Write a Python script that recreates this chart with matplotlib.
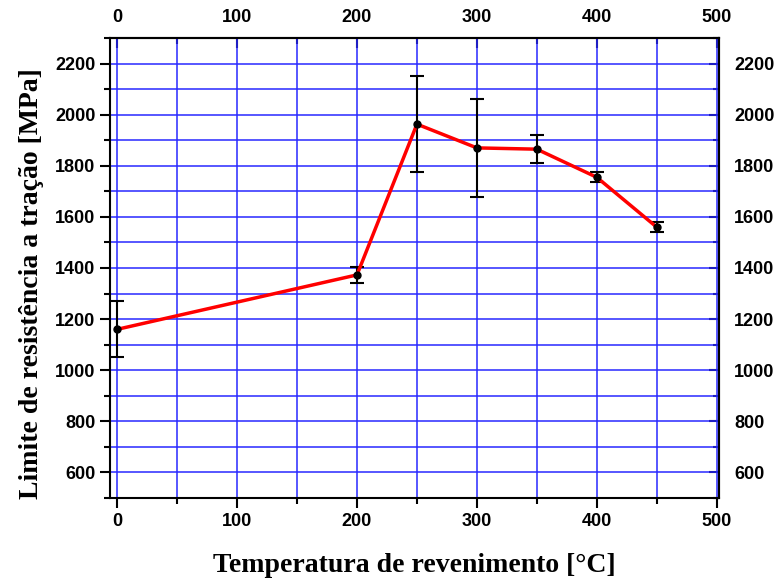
import matplotlib
matplotlib.use('Agg')
import matplotlib.pyplot as plt
from matplotlib.ticker import MultipleLocator

# tempering temperature [C] and tensile strength [MPa]
temps = [0, 200, 250, 300, 350, 400, 450]
strength = [1160, 1373, 1963, 1870, 1865, 1755, 1560]
err = [110, 30, 187, 193, 55, 20, 20]

xticks = [0, 100, 200, 300, 400, 500]
yticks = [600, 800, 1000, 1200, 1400, 1600, 1800, 2000, 2200]

fig = plt.figure(figsize=(7.77, 5.84), dpi=100)
ax = fig.add_axes([0.1416, 0.1473, 0.7838, 0.7876])

ax.set_xlim(-6, 502)
ax.set_ylim(500, 2300)
ax.set_xticks(xticks)
ax.set_yticks(yticks)
ax.xaxis.set_minor_locator(MultipleLocator(50))
ax.yaxis.set_minor_locator(MultipleLocator(100))

ax.grid(True, which='both', color='#2828ff', lw=1.1)
ax.set_axisbelow(True)

ax.errorbar(temps, strength, yerr=err, fmt='none', ecolor='black',
            elinewidth=1.5, capsize=5, capthick=1.5, zorder=3)
ax.plot(temps, strength, color='red', lw=2.5, zorder=4)
ax.plot(temps, strength, 'o', color='black', ms=5, zorder=5)

tickfont = dict(family='Liberation Sans', weight='bold', size=13)
ax.tick_params(which='major', direction='out', length=7, width=1.5)
ax.tick_params(which='minor', direction='out', length=4, width=1.5)
for lab in ax.get_xticklabels() + ax.get_yticklabels():
    lab.set_fontproperties(tickfont)
for s in ax.spines.values():
    s.set_linewidth(1.5)

# mirrored axes with inward ticks
top = ax.secondary_xaxis('top')
top.set_xticks(xticks)
top.xaxis.set_minor_locator(MultipleLocator(50))
top.tick_params(which='major', direction='in', length=7, width=1.5, pad=9)
top.tick_params(which='minor', direction='in', length=4, width=1.5)
right = ax.secondary_yaxis('right')
right.set_yticks(yticks)
right.yaxis.set_minor_locator(MultipleLocator(100))
right.tick_params(which='major', direction='in', length=7, width=1.5, pad=11)
right.tick_params(which='minor', direction='in', length=4, width=1.5)
for sec in (top, right):
    for s in sec.spines.values():
        s.set_linewidth(1.5)
for lab in top.get_xticklabels() + right.get_yticklabels():
    lab.set_fontproperties(tickfont)

labfont = dict(family='Liberation Serif', weight='bold', size=20)
ax.set_xlabel('Temperatura de revenimento [°C]', fontdict=labfont, labelpad=17)
ax.set_ylabel('Limite de resistência a tração [MPa]', fontdict=labfont)
ax.yaxis.set_label_coords(-0.108, 0.465)

fig.savefig('out.png', dpi=100)
